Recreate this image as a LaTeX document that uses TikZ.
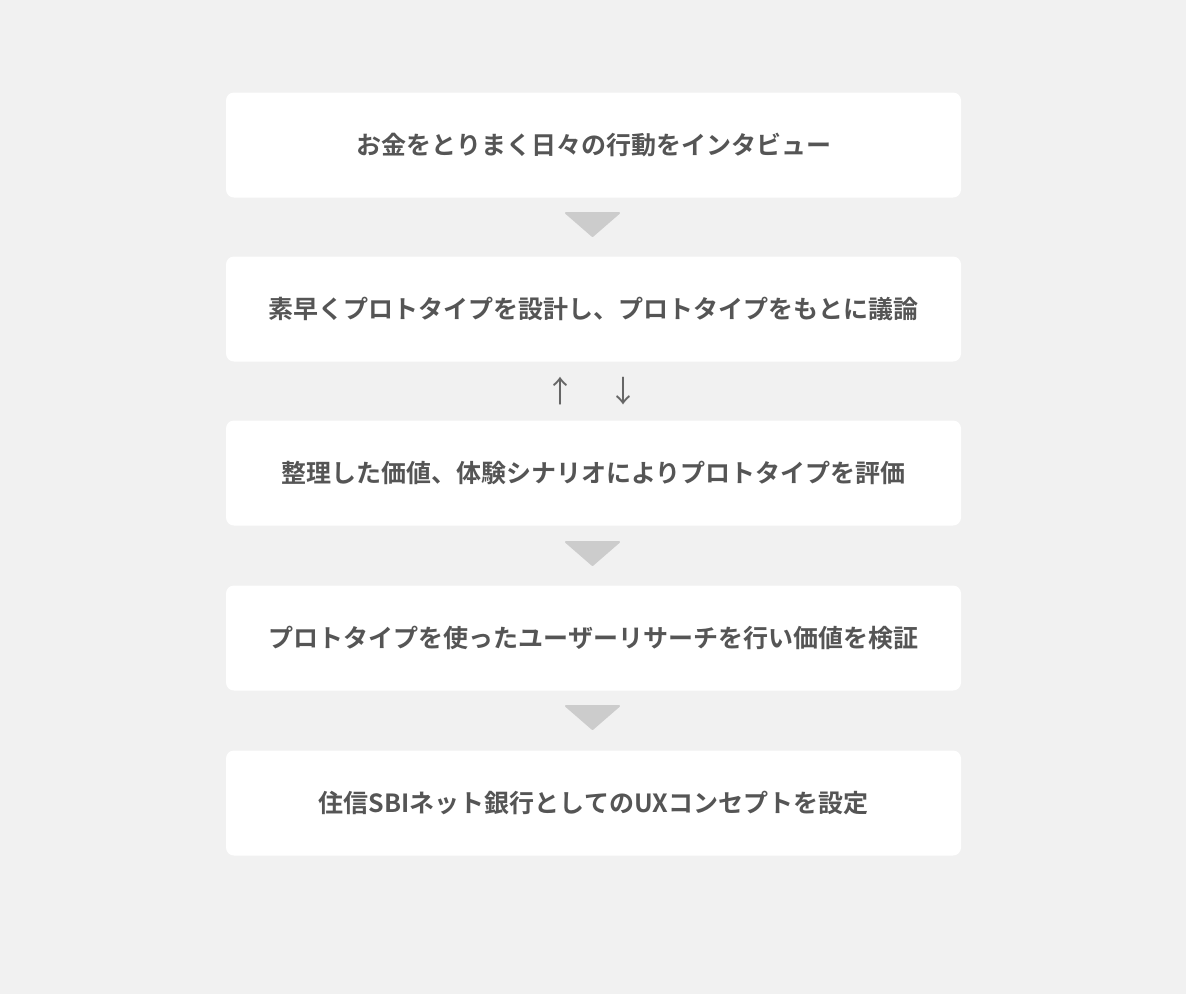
\documentclass[tikz,border=0pt]{standalone}
\usepackage{fontspec}
\setmainfont{Noto Sans CJK JP}
\newfontfamily\jpbold{Noto Sans CJK JP Bold}
\usetikzlibrary{positioning}
\definecolor{bgGray}{HTML}{F1F1F1}
\definecolor{txtGray}{HTML}{555555}
\definecolor{triGray}{HTML}{CCCCCC}
\definecolor{arrGray}{HTML}{666666}
\tikzset{
	stepbox/.style={fill=white, rounded corners=8pt, minimum width=735pt, minimum height=105pt,
		text=txtGray, font=\jpbold\fontsize{25}{28}\selectfont, inner sep=0pt},
	downtri/.style={fill=triGray, draw=triGray, line join=round, line width=2pt},
	updown/.style={text=arrGray, font=\fontsize{30}{32}\selectfont, inner sep=0pt}
}

\begin{document}
\begin{tikzpicture}[x=1pt,y=-1pt]

	\fill[bgGray](0,0)rectangle(1186,994);
	\useasboundingbox(0,0)rectangle(1186,994);

	\node[stepbox] (interview) at (593.5,145){お金をとりまく日々の行動をインタビュー};
	\node[stepbox] (prototype) at (593.5,309){素早くプロトタイプを設計し、プロトタイプをもとに議論};
	\node[stepbox] (evaluate) at (593.5,473){整理した価値、体験シナリオによりプロトタイプを評価};
	\node[stepbox] (research) at (593.5,638){プロトタイプを使ったユーザーリサーチを行い価値を検証};
	\node[stepbox] (concept) at (593.5,803){住信SBIネット銀行としてのUXコンセプトを設定};

	% triangles between steps
	\foreach \y in {213,542,706}{
		\filldraw[downtri](566,\y)--(619,\y)--(592.5,\y+23)--cycle;
	}

	% back and forth between prototype and evaluation
	\node[updown] (goUp) at (560,391){↑};
	\node[updown] (goDown) at (623,391){↓};

\end{tikzpicture}
\end{document}
